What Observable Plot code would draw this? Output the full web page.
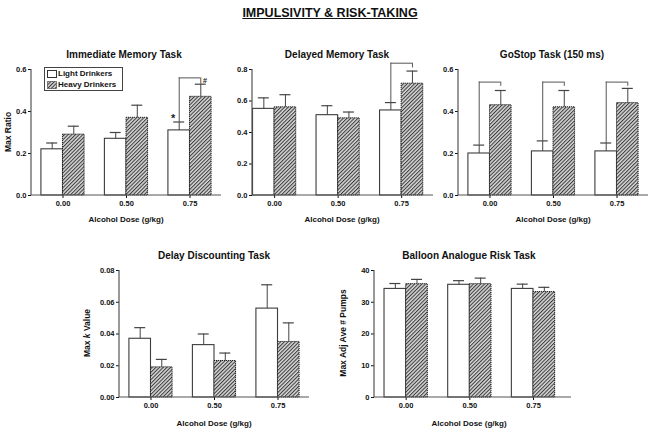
<!DOCTYPE html>
<html>
<head>
<meta charset="utf-8">
<script src="https://cdn.jsdelivr.net/npm/d3@7"></script>
<script src="https://cdn.jsdelivr.net/npm/@observablehq/plot@0.6"></script>
<style>
  html, body { margin: 0; padding: 0; background: #fff; }
  #root { position: relative; width: 654px; height: 432px; overflow: hidden; font-family: "Liberation Sans", Arial, sans-serif; color: #111; }
  .abs { position: absolute; }
  .title { font-weight: bold; font-size: 10px; white-space: nowrap; transform: translate(-50%, -50%); }
  .xlab { font-weight: bold; font-size: 8px; white-space: nowrap; transform: translate(-50%, -50%); }
  .ylab { font-weight: bold; font-size: 8.5px; white-space: nowrap; transform: translate(-50%, -50%) rotate(-90deg); }
  .main { font-weight: bold; font-size: 12.5px; text-decoration: underline; white-space: nowrap; transform: translate(-50%, -50%); }
  .legend { border: 1px solid #444; font-weight: bold; font-size: 8px; line-height: 11px; padding: 0 2px; }
  .legend div { display: flex; align-items: center; }
  .legend svg { margin-right: 1px; }
  svg.plot { position: absolute; overflow: visible; }
</style>
</head>
<body>
<svg width="0" height="0" style="position:absolute">
  <defs>
    <pattern id="hatch" width="2.6" height="2.6" patternUnits="userSpaceOnUse" patternTransform="rotate(45)">
      <rect width="2.6" height="2.6" fill="#d4d4d4"></rect>
      <line x1="0.5" y1="0" x2="0.5" y2="2.6" stroke="#3a3a3a" stroke-width="1"></line>
    </pattern>
  </defs>
</svg>
<div id="root"></div>
<script>
// ---------- data ----------
const doses = ["0.00", "0.50", "0.75"];
const groups = ["Light Drinkers", "Heavy Drinkers"];

// Immediate Memory Task (Max Ratio)
const immLight   = [0.22, 0.27, 0.31];
const immLightHi = [0.25, 0.30, 0.35];
const immHeavy   = [0.29, 0.37, 0.47];
const immHeavyHi = [0.33, 0.43, 0.53];
const immTicks   = [0, 0.2, 0.4, 0.6];

// Delayed Memory Task
const delLight   = [0.55, 0.51, 0.54];
const delLightHi = [0.62, 0.57, 0.59];
const delHeavy   = [0.56, 0.49, 0.71];
const delHeavyHi = [0.64, 0.53, 0.79];
const delTicks   = [0, 0.2, 0.4, 0.6, 0.8];

// GoStop Task (150 ms)
const goLight   = [0.20, 0.21, 0.21];
const goLightHi = [0.24, 0.26, 0.25];
const goHeavy   = [0.43, 0.42, 0.44];
const goHeavyHi = [0.50, 0.50, 0.51];
const goTicks   = [0, 0.2, 0.4, 0.6];

// Delay Discounting Task (Max k Value)
const ddLight   = [0.037, 0.033, 0.056];
const ddLightHi = [0.044, 0.040, 0.071];
const ddHeavy   = [0.019, 0.023, 0.035];
const ddHeavyHi = [0.024, 0.028, 0.047];
const ddTicks   = [0, 0.02, 0.04, 0.06, 0.08];

// Balloon Analogue Risk Task (Max Adj Ave # Pumps)
const bartLight   = [34.2, 35.5, 34.2];
const bartLightHi = [35.9, 36.8, 35.7];
const bartHeavy   = [35.7, 35.7, 33.2];
const bartHeavyHi = [37.2, 37.6, 34.7];
const bartTicks   = [0, 10, 20, 30, 40];

// significance brackets (dose, bracket top, right end)
const immBracketDoses = ["0.75"];
const immBracketTop   = [0.56];
const immBracketRight = [0.53];
const delBracketDoses = ["0.75"];
const delBracketTop   = [0.84];
const delBracketRight = [0.81];
const goBracketDoses  = ["0.00", "0.50", "0.75"];
const goBracketTop    = [0.54, 0.54, 0.54];
const goBracketRight  = [0.52, 0.52, 0.52];

// ---------- helpers ----------
const root = document.getElementById("root");
function addDiv(cls, text, x, y) {
  const d = document.createElement("div");
  d.className = "abs " + cls;
  d.textContent = text;
  d.style.left = x + "px";
  d.style.top = y + "px";
  root.appendChild(d);
  return d;
}

const PAD_INNER = 0.32;
const AXIS = "#555";

function panel(cfg) {
  const rows = doses.map((d, i) => ({
    dose: d, light: cfg.light[i], lightHi: cfg.lightHi[i], heavy: cfg.heavy[i], heavyHi: cfg.heavyHi[i]
  }));
  const R = cfg.width - cfg.ml - cfg.mr;
  const bw = d3.scaleBand().domain(doses).range([0, R])
    .paddingInner(PAD_INNER).paddingOuter(cfg.pO).align(cfg.align).bandwidth();
  const capHalf = 5.5;
  const q = bw / 4;
  const brackets = (cfg.bDoses || []).map((d, i) => ({
    dose: d, lo: cfg.lightHi[doses.indexOf(d)], top: cfg.bTop[i], right: cfg.bRight[i]
  }));
  const axisLine = (index, scales, values, dims) => {
    const g = d3.create("svg:g");
    g.append("line")
      .attr("x1", dims.marginLeft).attr("x2", dims.marginLeft)
      .attr("y1", dims.marginTop).attr("y2", dims.height - dims.marginBottom)
      .attr("stroke", AXIS).attr("stroke-width", 1.2);
    g.append("line")
      .attr("x1", dims.marginLeft).attr("x2", dims.width - dims.marginRight)
      .attr("y1", dims.height - dims.marginBottom).attr("y2", dims.height - dims.marginBottom)
      .attr("stroke", AXIS).attr("stroke-width", 1.2);
    return g.node();
  };
  const marks = [
    Plot.barY(rows, {x: "dose", y: "light", insetRight: bw / 2, fill: "white", stroke: "#3c3c3c", strokeWidth: 1.1}),
    Plot.barY(rows, {x: "dose", y: "heavy", insetLeft: bw / 2, fill: "url(#hatch)", stroke: "#1e1e1e", strokeWidth: 1, strokeDasharray: "1.2,0.8"}),
    Plot.ruleX(rows, {x: "dose", y1: "light", y2: "lightHi", dx: -q, stroke: "#444", strokeWidth: 1}),
    Plot.tickY(rows, {x: "dose", y: "lightHi", insetLeft: q - capHalf, insetRight: 3 * q - capHalf, stroke: "#444", strokeWidth: 1.2}),
    Plot.ruleX(rows, {x: "dose", y1: "heavy", y2: "heavyHi", dx: q, stroke: "#444", strokeWidth: 1}),
    Plot.tickY(rows, {x: "dose", y: "heavyHi", insetLeft: 3 * q - capHalf, insetRight: q - capHalf, stroke: "#444", strokeWidth: 1.2}),
    Plot.ruleX(brackets, {x: "dose", y1: "lo", y2: "top", dx: -q, stroke: "#555", strokeWidth: 1}),
    Plot.ruleX(brackets, {x: "dose", y1: "right", y2: "top", dx: q, stroke: "#555", strokeWidth: 1}),
    Plot.tickY(brackets, {x: "dose", y: "top", insetLeft: q, insetRight: q, stroke: "#555", strokeWidth: 1}),
    axisLine
  ];
  if (cfg.extra) marks.push(...cfg.extra(rows, q));
  const svg = Plot.plot({
    width: cfg.width,
    height: cfg.height,
    marginLeft: cfg.ml, marginRight: cfg.mr, marginTop: cfg.mt, marginBottom: cfg.mb,
    style: {fontFamily: "'Liberation Sans', Arial, sans-serif", fontSize: "7.5px", fontWeight: "bold", color: "#111", background: "transparent", overflow: "visible"},
    x: {domain: doses, label: null, tickSize: 3, tickPadding: 2, paddingInner: PAD_INNER, paddingOuter: cfg.pO, align: cfg.align, round: false},
    y: {domain: [cfg.ticks[0], cfg.ticks[cfg.ticks.length - 1]], ticks: cfg.ticks, tickFormat: cfg.fmt, tickSize: 3, tickPadding: 2, label: null, nice: false},
    marks
  });
  svg.classList.add("plot");
  svg.style.left = cfg.left + "px";
  svg.style.top = cfg.top + "px";
  root.appendChild(svg);
}

// ---------- main title ----------
addDiv("main", "IMPULSIVITY & RISK-TAKING", 330, 13);

// ---------- top row ----------
panel({left: 0, top: 55, width: 226, height: 155, ml: 31, mr: 5, mt: 14, mb: 15, pO: 0.156, align: 0.5,
  light: immLight, lightHi: immLightHi, heavy: immHeavy, heavyHi: immHeavyHi, ticks: immTicks, fmt: d3.format(".1f"),
  bDoses: immBracketDoses, bTop: immBracketTop, bRight: immBracketRight,
  extra: (rows, q) => [
    Plot.text(rows.filter(r => r.dose === "0.75"), {x: "dose", y: "lightHi", text: () => "*", dx: -q - 6, dy: -4, fontSize: 11, fontWeight: "bold", fill: "#222"}),
    Plot.text(immBracketDoses, {x: d => d, y: immBracketTop, text: () => "#", dx: q + 4, dy: 3, fontSize: 7.5, fontStyle: "italic", fill: "#222"})
  ]});
addDiv("title", "Immediate Memory Task", 124, 54);
addDiv("xlab", "Alcohol Dose (g/kg)", 126, 219);
addDiv("ylab", "Max Ratio", 8, 132);

panel({left: 222, top: 55, width: 216, height: 155, ml: 30, mr: 5, mt: 14, mb: 15, pO: 0.085, align: 0.05,
  light: delLight, lightHi: delLightHi, heavy: delHeavy, heavyHi: delHeavyHi, ticks: delTicks, fmt: d3.format(".1f"),
  bDoses: delBracketDoses, bTop: delBracketTop, bRight: delBracketRight});
addDiv("title", "Delayed Memory Task", 337, 54);
addDiv("xlab", "Alcohol Dose (g/kg)", 342, 219);

panel({left: 430, top: 55, width: 222, height: 155, ml: 28, mr: 4, mt: 14, mb: 15, pO: 0.156, align: 0.5,
  light: goLight, lightHi: goLightHi, heavy: goHeavy, heavyHi: goHeavyHi, ticks: goTicks, fmt: d3.format(".1f"),
  bDoses: goBracketDoses, bTop: goBracketTop, bRight: goBracketRight});
addDiv("title", "GoStop Task (150 ms)", 552, 54);
addDiv("xlab", "Alcohol Dose (g/kg)", 553, 219);

// ---------- bottom row ----------
panel({left: 80, top: 255, width: 234, height: 157, ml: 39, mr: 5, mt: 15, mb: 15, pO: 0.156, align: 0.5,
  light: ddLight, lightHi: ddLightHi, heavy: ddHeavy, heavyHi: ddHeavyHi, ticks: ddTicks, fmt: d3.format(".2f")});
addDiv("title", "Delay Discounting Task", 214, 255);
addDiv("xlab", "Alcohol Dose (g/kg)", 214, 423);
const kl = addDiv("ylab", "", 87, 333);
kl.innerHTML = "Max <i>k</i> Value";

panel({left: 340, top: 255, width: 236, height: 157, ml: 34, mr: 5, mt: 15, mb: 15, pO: 0.207, align: 0.38,
  light: bartLight, lightHi: bartLightHi, heavy: bartHeavy, heavyHi: bartHeavyHi, ticks: bartTicks, fmt: d3.format("d")});
addDiv("title", "Balloon Analogue Risk Task", 469, 255);
addDiv("xlab", "Alcohol Dose (g/kg)", 469, 423);
addDiv("ylab", "Max Adj Ave # Pumps", 343, 333);

// ---------- legend ----------
const leg = document.createElement("div");
leg.className = "abs legend";
leg.style.left = "44px"; leg.style.top = "67px"; leg.style.width = "73px";
groups.forEach((g, i) => {
  const row = document.createElement("div");
  const fill = i === 0 ? "white" : "url(#hatch)";
  const dash = i === 0 ? "" : "stroke-dasharray='1.2,0.8'";
  row.innerHTML = `<svg width="10" height="8"><rect x="0.5" y="0.5" width="9" height="7" fill="${fill}" stroke="#333" ${dash}></rect></svg><span>${g}</span>`;
  leg.appendChild(row);
});
root.appendChild(leg);
</script>
</body>
</html>
